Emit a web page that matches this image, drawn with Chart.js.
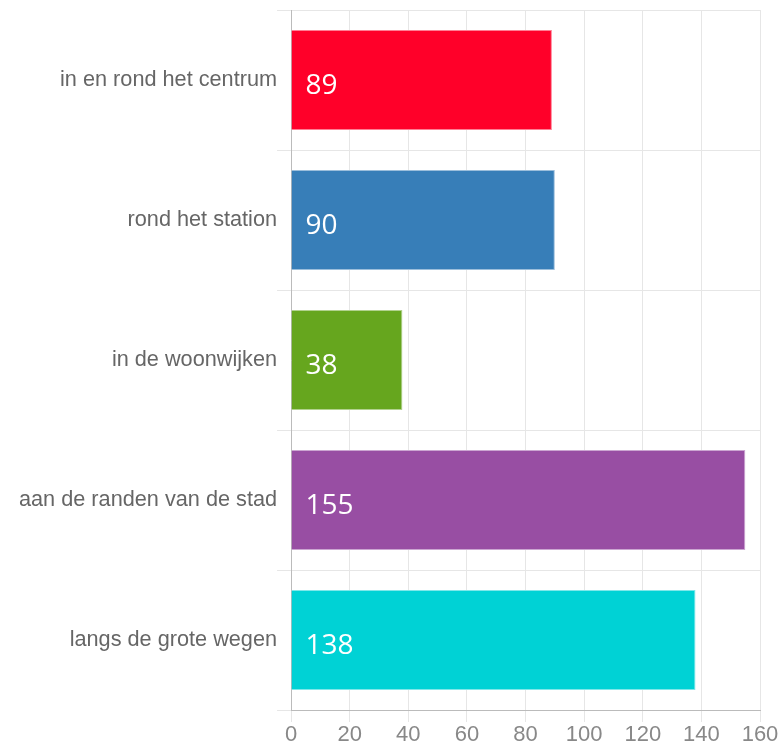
<!DOCTYPE html>
<html>
<head>
<meta charset="utf-8">
<script src="https://cdn.jsdelivr.net/npm/chart.js@4"></script>
<style>
    html, body { margin: 0; padding: 0; background: #fff; }
    #wrap { width: 782px; height: 748px; }
</style>
</head>
<body>
<div id="wrap"><canvas id="myChart"></canvas></div>
<script>
const labels = ['in en rond het centrum', 'rond het station', 'in de woonwijken', 'aan de randen van de stad', 'langs de grote wegen'];
const values = [89, 90, 38, 155, 138];
const barColors = ['#FF0029', '#377EB8', '#66A61E', '#984EA3', '#00D2D5'];
const borderColors = ['#FF7F94', '#9BBEDB', '#B2D28E', '#CBA6D1', '#7FE8EA'];

// white value labels inside bars, near the start
const valueLabels = {
    id: 'valueLabels',
    afterDatasetsDraw(chart) {
        const c = chart.ctx;
        const meta = chart.getDatasetMeta(0);
        c.save();
        c.fillStyle = '#ffffff';
        c.font = '28px "Open Sans", "Noto Sans", sans-serif';
        c.textAlign = 'left';
        c.textBaseline = 'middle';
        meta.data.forEach((bar, i) => {
            c.fillText(String(values[i]), bar.base + 14, bar.y + 6);
        });
        c.restore();
    }
};

const ctx = document.getElementById('myChart').getContext('2d');
const myChart = new Chart(ctx, {
    type: 'bar',
    data: {
        labels: labels,
        datasets: [{
            data: values,
            backgroundColor: barColors,
            borderColor: borderColors,
            borderWidth: 1,
            categoryPercentage: 1,
            barPercentage: 0.714
        }]
    },
    options: {
        indexAxis: 'y',
        responsive: true,
        maintainAspectRatio: false,
        animation: false,
        layout: {
            padding: { left: 19, right: 22, top: 10, bottom: 0 }
        },
        plugins: {
            legend: { display: false },
            tooltip: { enabled: false }
        },
        scales: {
            x: {
                min: 0,
                max: 160,
                ticks: {
                    stepSize: 20,
                    color: '#888',
                    font: { family: 'Liberation Sans, Arial, sans-serif', size: 22, lineHeight: 1 },
                    padding: 2
                },
                grid: {
                    color: '#e6e6e6',
                    tickLength: 12
                },
                border: { color: '#bbbbbb' }
            },
            y: {
                ticks: {
                    color: '#666',
                    font: { family: 'Liberation Sans, Arial, sans-serif', size: 21.7, lineHeight: 0.9 },
                    padding: 0
                },
                grid: {
                    color: '#e6e6e6',
                    offset: true,
                    tickLength: 14
                },
                border: { color: '#bbbbbb' }
            }
        }
    },
    plugins: [valueLabels]
});
</script>
</body>
</html>
